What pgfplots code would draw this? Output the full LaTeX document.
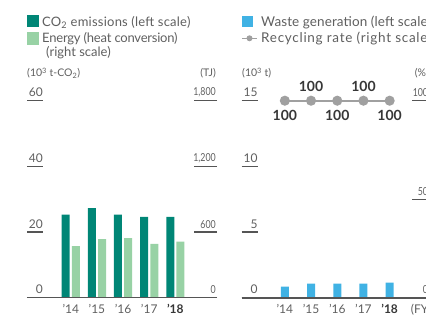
\documentclass[border=0pt]{standalone}
\usepackage{fontspec}
\setmainfont{Lato}
\newfontfamily\condfont[FakeStretch=0.8]{Lato}
\usepackage{pgfplots}
\pgfplotsset{compat=1.18}
\definecolor{co2}{RGB}{0,134,118}
\definecolor{energy}{RGB}{152,210,165}
\definecolor{waste}{RGB}{64,178,228}
\definecolor{recyc}{RGB}{160,160,160}
\definecolor{axisgray}{RGB}{85,85,85}
\definecolor{txt}{RGB}{95,95,95}
\definecolor{dtxt}{RGB}{55,55,55}

\pgfplotsset{
  /pgf/number format/assume math mode=true,
  /pgf/number format/1000 sep={,},
  panel/.style={
    scale only axis, width=190pt, height=197pt,
    ymin=0, axis line style={draw=none},
    tick align=inside,
    ytick style={axisgray, line width=1.3pt},
    xtick style={draw=none},
    ticklabel style={font=\fontsize{12}{14}\selectfont, text=txt},
  },
  leftticks/.style={ytick pos=left, major tick length=16pt,
    yticklabel style={anchor=south east, inner sep=0pt, xshift=16pt, yshift=3.5pt}},
  rightticks/.style 2 args={ytick pos=right, major tick length=#1,
    yticklabel style={anchor=south east, inner sep=0pt, xshift=#2, yshift=3.5pt,
      font=\condfont\fontsize{11}{13}\selectfont}},
  yearlabels/.style={xtick={0,1,2,3,4},
    xticklabels={’14,’15,’16,’17,{\textbf{\color{dtxt}’18}}},
    xticklabel style={anchor=north, inner sep=0pt, yshift=-6pt}},
  ratelabel/.style={draw=none, mark=none, nodes near coords, point meta=y,
    every node near coord/.append style={anchor=center, yshift=#1, text=dtxt,
      font=\fontsize{14}{16}\selectfont\bfseries}},
}

\pgfplotstableread{
x co2 energy waste recyc
0 25.3 472 0.84 100
1 27.3 536 1.07 100
2 25.3 545 1.07 100
3 24.6 491 1.07 100
4 24.6 512 1.14 100
}\datatable

\begin{document}
\begin{tikzpicture}[x=1pt,y=1pt]
\useasboundingbox (0,0) rectangle (426,316);
\clip (0,0) rectangle (426,316);

% ---------- left panel: CO2 (left scale)
\begin{axis}[panel, leftticks, yearlabels, at={(27pt,18.3pt)}, anchor=south west,
  xmin=-1.676, xmax=5.593, ymax=60, ytick={0,20,40,60}]
\addplot[ybar, bar width=8pt, bar shift=-5.1pt, fill=co2, draw=none] table[x=x, y=co2] {\datatable};
\end{axis}
% energy (right scale)
\begin{axis}[panel, rightticks={23pt}{-1pt}, at={(27pt,18.3pt)}, anchor=south west,
  xmin=-1.676, xmax=5.593, ymax=1800, ytick={0,600,1200,1800}, xtick=\empty]
\addplot[ybar, bar width=8pt, bar shift=5.1pt, fill=energy, draw=none] table[x=x, y=energy] {\datatable};
\draw[axisgray, line width=1.8pt] (rel axis cs:0,0) -- (rel axis cs:1,0);
\node[anchor=north east, inner sep=0pt, yshift=-6pt, text=txt, font=\fontsize{12}{14}\selectfont] at (rel axis cs:1,0) {(FY)};
\end{axis}

% ---------- right panel: waste (left scale)
\begin{axis}[panel, leftticks, yearlabels, at={(241.7pt,18.3pt)}, anchor=south west,
  xmin=-1.647, xmax=5.605, ymax=15, ytick={0,5,10,15}]
\addplot[ybar, bar width=8pt, bar shift=0pt, fill=waste, draw=none] table[x=x, y=waste] {\datatable};
\end{axis}
% recycling rate (right scale)
\begin{axis}[panel, rightticks={20pt}{-3.4pt}, at={(241.7pt,18.3pt)}, anchor=south west, clip=false,
  xmin=-1.647, xmax=5.605, ymax=100, ytick={0,50,100}, xtick=\empty]
\addplot[recyc, line width=2pt, mark=*, mark size=4pt, mark options={fill=recyc, draw=none}]
  table[x=x, y=recyc] {\datatable};
\addplot[ratelabel=14.5pt] coordinates {(1,100) (3,100)};
\addplot[ratelabel=-14.7pt] coordinates {(0,100) (2,100) (4,100)};
\draw[axisgray, line width=1.8pt] (rel axis cs:0,0) -- (rel axis cs:1,0);
\node[anchor=north west, inner sep=0pt, yshift=-6pt, text=txt, font=\fontsize{12}{14}\selectfont] at (rel axis cs:0.8895,0) {(FY)};
\end{axis}

% ---------- units
\begin{scope}[font=\fontsize{10.5}{12}\selectfont, text=txt]
\node[anchor=base west, inner sep=0pt] at (27,239) {(10\textsuperscript{3} t-CO\textsubscript{2})};
\node[anchor=base east, inner sep=0pt] at (216,239) {(TJ)};
\node[anchor=base west, inner sep=0pt] at (242,239) {(10\textsuperscript{3} t)};
\node[anchor=base east, inner sep=0pt] at (429,239) {(\%)};
\end{scope}

% ---------- legends
\begin{scope}[font=\fontsize{13}{15}\selectfont, text=txt]
\fill[co2] (27,289) rectangle (39,301);
\node[anchor=base west, inner sep=0pt] at (42,289.5) {\addfontfeature{LetterSpace=1.8}CO\textsubscript{2} emissions (left scale)};
\fill[energy] (27,271) rectangle (39,284);
\node[anchor=base west, inner sep=0pt] at (42,273) {\addfontfeature{LetterSpace=-1.7}Energy (heat conversion)};
\node[anchor=base west, inner sep=0pt] at (46,259) {(right scale)};
\end{scope}
\begin{scope}[font=\fontsize{13.5}{15}\selectfont, text=txt]
\fill[waste] (242,289) rectangle (252.5,300);
\node[anchor=base west, inner sep=0pt] at (261,289.5) {\addfontfeature{LetterSpace=0.8}Waste generation (left scale)};
\draw[recyc, line width=1.5pt] (242,277.7) -- (257,277.7);
\fill[recyc] (249.5,277.7) circle (3);
\node[anchor=base west, inner sep=0pt] at (261,273) {\addfontfeature{LetterSpace=5.3}Recycling rate (right scale)};
\end{scope}
\end{tikzpicture}
\end{document}
